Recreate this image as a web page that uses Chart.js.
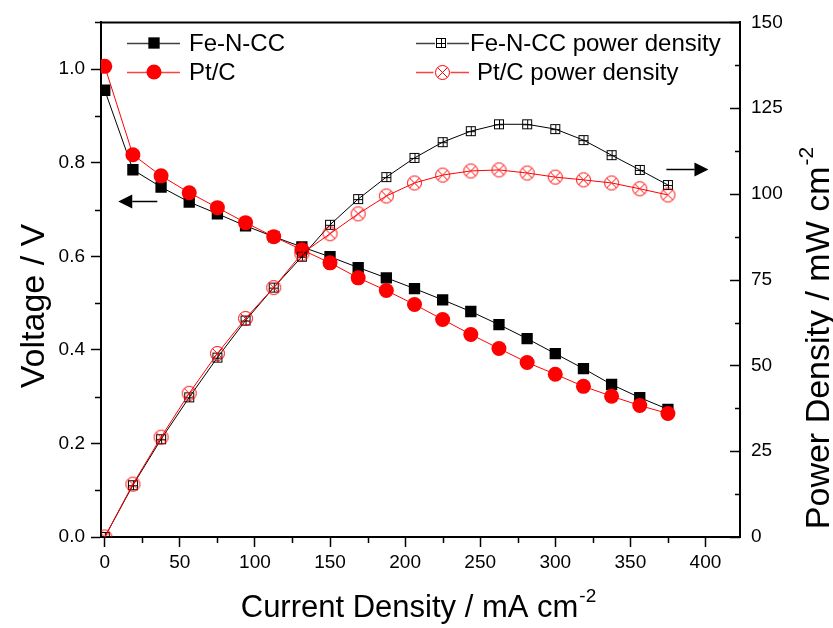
<!DOCTYPE html>
<html>
<head>
<meta charset="utf-8">
<script src="https://cdn.jsdelivr.net/npm/chart.js@4/dist/chart.umd.min.js"></script>
<style>
  html, body { margin: 0; padding: 0; background: #ffffff; }
  #wrap { width: 833px; height: 628px; position: relative; }
</style>
</head>
<body>
<div id="wrap"><canvas id="c" width="833" height="628"></canvas></div>
<script>
// ---------------- data ----------------
const currentDensity = [0, 18.75, 37.5, 56.25, 75, 93.75, 112.5, 131.25, 150, 168.75, 187.5,
                        206.25, 225, 243.75, 262.5, 281.25, 300, 318.75, 337.5, 356.25, 375];
const feVoltage = [0.955, 0.785, 0.748, 0.716, 0.691, 0.665, 0.642, 0.620, 0.599, 0.576, 0.554,
                   0.531, 0.507, 0.482, 0.454, 0.424, 0.392, 0.360, 0.326, 0.298, 0.273];
const ptVoltage = [1.006, 0.817, 0.772, 0.736, 0.704, 0.672, 0.642, 0.614, 0.586, 0.554, 0.527,
                   0.497, 0.465, 0.433, 0.403, 0.373, 0.348, 0.322, 0.301, 0.281, 0.264];
const fePower = [0, 15.1, 28.5, 40.7, 52.3, 63.1, 72.7, 81.7, 91.0, 98.5, 104.9,
                 110.5, 115.1, 118.3, 120.3, 120.3, 118.9, 115.7, 111.3, 107.0, 102.6];
const ptPower = [0, 15.4, 29.1, 41.9, 53.5, 63.7, 72.7, 82.6, 88.4, 94.2, 99.4,
                 103.2, 105.5, 106.7, 107.0, 106.1, 104.9, 104.1, 103.2, 101.5, 99.7];

const seriesLabels = ['Fe-N-CC', 'Pt/C', 'Fe-N-CC power density', 'Pt/C power density'];

const xTickValues = [0, 50, 100, 150, 200, 250, 300, 350, 400];
const xMinorValues = [25, 75, 125, 175, 225, 275, 325, 375, 425];
const voltageTickValues = [0, 0.2, 0.4, 0.6, 0.8, 1.0];
const voltageMinorValues = [0.1, 0.3, 0.5, 0.7, 0.9, 1.1];
const powerTickValues = [0, 25, 50, 75, 100, 125, 150];
const powerMinorValues = [12.5, 37.5, 62.5, 87.5, 112.5, 137.5];

// arrows (data coordinates): voltage arrow points left, power arrow points right
const voltageArrowX = [35, 9];
const voltageArrowY = 0.718;
const powerArrowX = [374, 402];
const powerArrowY = 107.3;

const axisTitleX = 'Current Density / mA cm';
const axisTitleLeft = 'Voltage / V';
const axisTitleRight = 'Power Density / mW cm';
const superscript = '-2';

// ---------------- marker images ----------------
function makeBoxPlus(side, color) {
  const c = document.createElement('canvas');
  c.width = side + 2; c.height = side + 2;
  const g = c.getContext('2d');
  g.strokeStyle = color; g.lineWidth = 1;
  g.strokeRect(1.5, 1.5, side - 1, side - 1);
  const m = Math.floor((side + 2) / 2) + 0.5;
  g.beginPath();
  g.moveTo(m, 1.5); g.lineTo(m, side + 0.5);
  g.moveTo(1.5, m); g.lineTo(side + 0.5, m);
  g.stroke();
  return c;
}
function makeCircleX(d, color) {
  const c = document.createElement('canvas');
  c.width = d + 2; c.height = d + 2;
  const g = c.getContext('2d');
  const r = d / 2, cx = (d + 2) / 2;
  g.strokeStyle = color; g.lineWidth = 1;
  g.beginPath(); g.arc(cx, cx, r - 0.5, 0, Math.PI * 2); g.stroke();
  const k = (r - 0.5) * Math.SQRT1_2;
  g.beginPath();
  g.moveTo(cx - k, cx - k); g.lineTo(cx + k, cx + k);
  g.moveTo(cx + k, cx - k); g.lineTo(cx - k, cx + k);
  g.stroke();
  return c;
}
const boxPlus = makeBoxPlus(10, '#000000');
const circleX = makeCircleX(15, '#ff0000');

function pts(ys) { return currentDensity.map((x, i) => ({ x: x, y: ys[i] })); }

const FONT = '"Liberation Sans", Arial, Helvetica, sans-serif';

// ---------------- plugins ----------------
const decorPlugin = {
  id: 'decor',
  afterDraw(chart) {
    const ctx = chart.ctx;
    const a = chart.chartArea;
    const xs = chart.scales.x, yl = chart.scales.yV, yr = chart.scales.yP;
    ctx.save();
    ctx.strokeStyle = '#000'; ctx.fillStyle = '#000';
    // top border
    ctx.lineWidth = 2;
    ctx.beginPath(); ctx.moveTo(a.left - 1, a.top); ctx.lineTo(a.right + 1, a.top); ctx.stroke();
    // minor ticks
    ctx.lineWidth = 1.5;
    ctx.beginPath();
    xMinorValues.forEach(v => {
      const px = Math.round(xs.getPixelForValue(v)) + 0.5;
      if (px > a.right) return;
      ctx.moveTo(px, a.bottom); ctx.lineTo(px, a.bottom + 6);
    });
    voltageMinorValues.forEach(v => {
      const py = Math.round(yl.getPixelForValue(v)) + 0.5;
      if (py < a.top) return;
      ctx.moveTo(a.left, py); ctx.lineTo(a.left - 6, py);
    });
    // right axis: inward ticks
    powerTickValues.forEach(v => {
      const py = Math.round(yr.getPixelForValue(v)) + 0.5;
      ctx.moveTo(a.right, py); ctx.lineTo(a.right - 10, py);
    });
    powerMinorValues.forEach(v => {
      const py = Math.round(yr.getPixelForValue(v)) + 0.5;
      ctx.moveTo(a.right, py); ctx.lineTo(a.right - 5, py);
    });
    ctx.stroke();

    // arrows
    function arrow(x0, x1, y) {
      const ya = Math.round(y) + 0.5;
      const dir = Math.sign(x1 - x0);
      const head = 14, half = 7;
      ctx.lineWidth = 1.5;
      ctx.beginPath(); ctx.moveTo(x0, ya); ctx.lineTo(x1 - dir * head, ya); ctx.stroke();
      ctx.beginPath();
      ctx.moveTo(x1, ya);
      ctx.lineTo(x1 - dir * head, ya - half);
      ctx.lineTo(x1 - dir * head, ya + half);
      ctx.closePath(); ctx.fill();
    }
    arrow(xs.getPixelForValue(voltageArrowX[0]), xs.getPixelForValue(voltageArrowX[1]), yl.getPixelForValue(voltageArrowY));
    arrow(xs.getPixelForValue(powerArrowX[0]), xs.getPixelForValue(powerArrowX[1]), yr.getPixelForValue(powerArrowY));

    // axis titles with superscripts
    ctx.fillStyle = '#000';
    ctx.textBaseline = 'alphabetic';
    function measure(main, sup, size, supSize) {
      ctx.font = size + 'px ' + FONT;
      const w1 = ctx.measureText(main).width;
      ctx.font = supSize + 'px ' + FONT;
      const w2 = ctx.measureText(sup).width;
      return { w1: w1, w2: w2, total: w1 + w2 + 1 };
    }
    // x title
    let m = measure(axisTitleX, superscript, 31, 19);
    let cx = (a.left + a.right) / 2 - 2;
    let sx = cx - m.total / 2;
    ctx.textAlign = 'left';
    ctx.font = '31px ' + FONT;
    ctx.fillText(axisTitleX, sx, 617);
    ctx.font = '19px ' + FONT;
    ctx.fillText(superscript, sx + m.w1 + 1, 602);
    // left title
    ctx.save();
    ctx.translate(44, 306);
    ctx.rotate(-Math.PI / 2);
    ctx.textAlign = 'center';
    ctx.font = '34px ' + FONT;
    ctx.fillText(axisTitleLeft, 0, 0);
    ctx.restore();
    // right title
    m = measure(axisTitleRight, superscript, 34, 21);
    ctx.save();
    ctx.translate(829, 338);
    ctx.rotate(-Math.PI / 2);
    ctx.textAlign = 'left';
    ctx.font = '34px ' + FONT;
    ctx.fillText(axisTitleRight, -m.total / 2, 0);
    ctx.font = '21px ' + FONT;
    ctx.fillText(superscript, -m.total / 2 + m.w1 + 1, -16);
    ctx.restore();

    // legend
    const ds = chart.data.datasets;
    const entries = [
      { d: ds[0], lx0: 127, lx1: 180, mx: 154, tx: 189, y: 43 },
      { d: ds[1], lx0: 127, lx1: 180, mx: 154, tx: 189, y: 72 },
      { d: ds[2], lx0: 416, lx1: 469, mx: 441, tx: 470, y: 43 },
      { d: ds[3], lx0: 416, lx1: 469, mx: 442, tx: 477, y: 72 }
    ];
    ctx.textAlign = 'left';
    ctx.textBaseline = 'middle';
    ctx.font = '24px ' + FONT;
    entries.forEach(e => {
      const y = e.y + 0.5;
      ctx.strokeStyle = e.d.borderColor; ctx.lineWidth = 1.5;
      ctx.globalAlpha = 0.75;
      ctx.beginPath(); ctx.moveTo(e.lx0, y); ctx.lineTo(e.lx1, y); ctx.stroke();
      ctx.globalAlpha = 1;
      const ps = e.d.pointStyle;
      if (ps === 'rect') {
        const s = e.d.pointRadius * Math.SQRT1_2;
        ctx.fillStyle = e.d.pointBackgroundColor;
        ctx.fillRect(e.mx - s, e.y - s, 2 * s, 2 * s);
      } else if (ps === 'circle') {
        ctx.fillStyle = e.d.pointBackgroundColor;
        ctx.beginPath(); ctx.arc(e.mx, e.y, e.d.pointRadius, 0, Math.PI * 2); ctx.fill();
      } else {
        ctx.fillStyle = '#fff';
        ctx.fillRect(e.mx - ps.width / 2, e.y - ps.height / 2, ps.width, ps.height);
        ctx.drawImage(ps, Math.round(e.mx - ps.width / 2), Math.round(e.y - ps.height / 2));
      }
      ctx.fillStyle = '#000';
      ctx.fillText(e.d.label, e.tx, e.y + 1);
    });
    ctx.restore();
  }
};

// ---------------- chart ----------------
const chart = new Chart(document.getElementById('c'), {
  type: 'line',
  data: {
    datasets: [
      { label: seriesLabels[0], data: pts(feVoltage), yAxisID: 'yV', order: 3,
        borderColor: '#000000', borderWidth: 1, pointStyle: 'rect', pointRadius: 8,
        pointBackgroundColor: '#000000', pointBorderWidth: 0, pointHoverRadius: 8 },
      { label: seriesLabels[1], data: pts(ptVoltage), yAxisID: 'yV', order: 2,
        borderColor: '#ff0000', borderWidth: 1, pointStyle: 'circle', pointRadius: 7.5,
        pointBackgroundColor: '#ff0000', pointBorderWidth: 0, pointHoverRadius: 7.5 },
      { label: seriesLabels[2], data: pts(fePower), yAxisID: 'yP', order: 1,
        borderColor: '#000000', borderWidth: 1, pointStyle: boxPlus, pointRadius: 6,
        pointBackgroundColor: '#000000', pointHoverRadius: 6 },
      { label: seriesLabels[3], data: pts(ptPower), yAxisID: 'yP', order: 0,
        borderColor: '#ff0000', borderWidth: 1, pointStyle: circleX, pointRadius: 7,
        pointBackgroundColor: '#ff0000', pointHoverRadius: 7 }
    ]
  },
  options: {
    responsive: false,
    animation: false,
    events: [],
    layout: { padding: { top: 21, left: 0, right: 0, bottom: 0 } },
    elements: { line: { tension: 0 } },
    plugins: { legend: { display: false }, tooltip: { enabled: false } },
    scales: {
      x: {
        type: 'linear', min: -2.5, max: 423, position: 'bottom',
        afterBuildTicks: s => { s.ticks = xTickValues.map(v => ({ value: v })); },
        afterFit: s => { s.height = 91; },
        grid: { drawOnChartArea: false, drawTicks: true, tickLength: 10, tickWidth: 1.5, tickColor: '#000' },
        border: { display: true, color: '#000', width: 2 },
        ticks: { color: '#000', padding: 4, maxRotation: 0, autoSkip: false,
                 font: { family: FONT, size: 19 } },
        title: { display: false }
      },
      yV: {
        type: 'linear', position: 'left', min: 0, max: 1.1,
        afterBuildTicks: s => { s.ticks = voltageTickValues.map(v => ({ value: v })); },
        afterFit: s => { s.width = 101; },
        grid: { drawOnChartArea: false, drawTicks: true, tickLength: 10, tickWidth: 1.5, tickColor: '#000' },
        border: { display: true, color: '#000', width: 2 },
        ticks: { color: '#000', padding: 6, autoSkip: false,
                 font: { family: FONT, size: 19 },
                 callback: v => Number(v).toFixed(1) },
        title: { display: false }
      },
      yP: {
        type: 'linear', position: 'right', min: 0, max: 150,
        afterBuildTicks: s => { s.ticks = powerTickValues.map(v => ({ value: v })); },
        afterFit: s => { s.width = 93; },
        grid: { drawOnChartArea: false, drawTicks: false },
        border: { display: true, color: '#000', width: 2 },
        ticks: { color: '#000', padding: 11, autoSkip: false,
                 font: { family: FONT, size: 19 } },
        title: { display: false }
      }
    }
  },
  plugins: [decorPlugin]
});
</script>
</body>
</html>
